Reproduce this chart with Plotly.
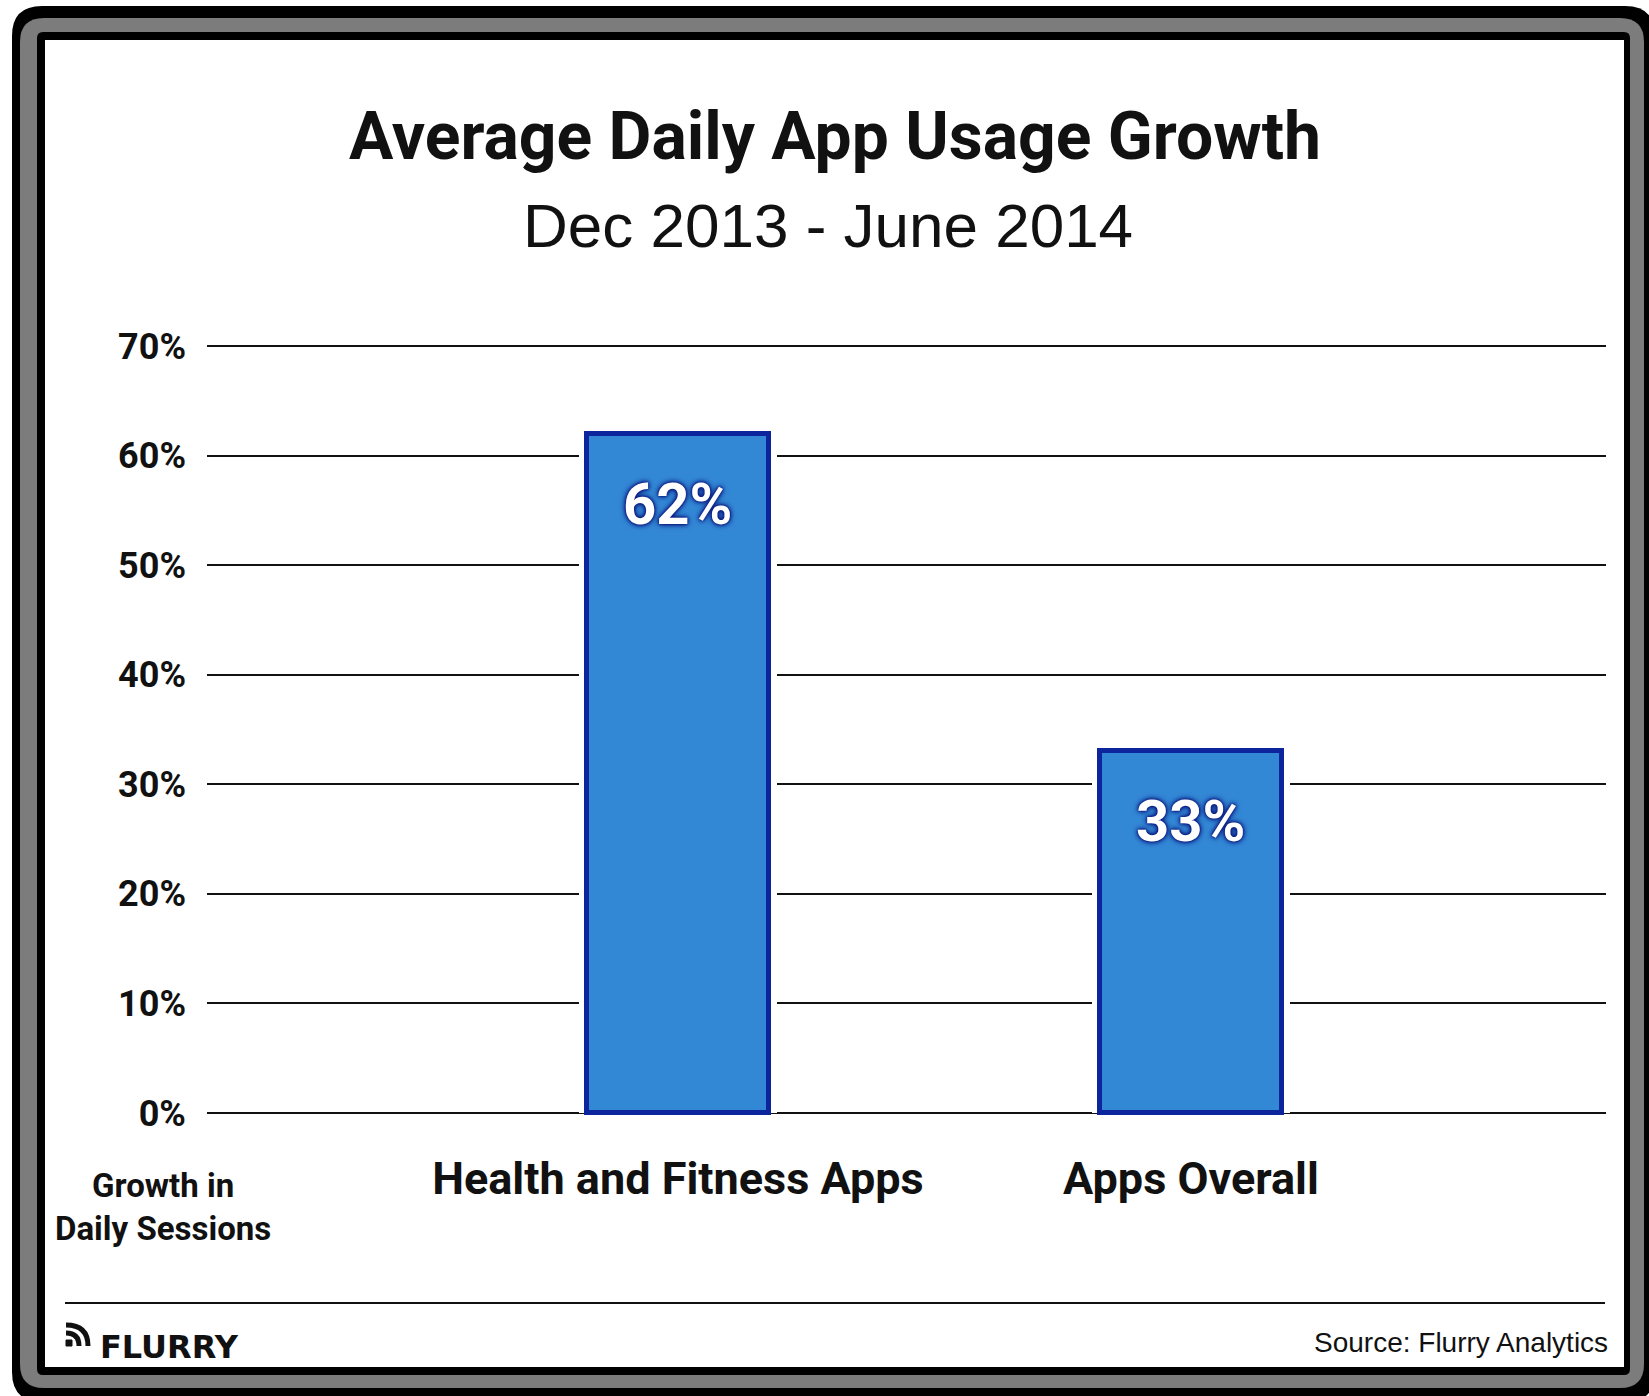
import plotly.graph_objects as go

# ---- data ----
categories = ["Health and Fitness Apps", "Apps Overall"]
growth_pct = [62, 33]
tick_values = [0, 10, 20, 30, 40, 50, 60, 70]
tick_labels = ["0%", "10%", "20%", "30%", "40%", "50%", "60%", "70%"]

title_text = "Average Daily App Usage Growth"
subtitle_text = "Dec 2013 - June 2014"
axis_note = "Growth in<br>Daily Sessions"
source_text = "Source: Flurry Analytics"

# ---- page geometry (pixels) ----
W, H = 1649, 1396
PL, PR = 207, 1606          # plot area left / right
PT, PB = 335, 1124          # plot area top / bottom

BOLD = "Roboto, Liberation Sans, Arial, sans-serif"
REGULAR = "Liberation Sans, Arial, sans-serif"


def px(x):
    return (x - PL) / (PR - PL)


def py(y):
    return (PB - y) / (PB - PT)


def rounded_rect(x0, y0, x1, y1, r):
    """SVG path (paper coords) of a rectangle with rounded corners."""
    rx = r / (PR - PL)
    ry = r / (PB - PT)
    X0, X1 = px(x0), px(x1)
    Y0, Y1 = py(y0), py(y1)      # Y0 top (larger), Y1 bottom
    return (
        f"M{X0 + rx},{Y0} L{X1 - rx},{Y0} Q{X1},{Y0} {X1},{Y0 - ry} "
        f"L{X1},{Y1 + ry} Q{X1},{Y1} {X1 - rx},{Y1} "
        f"L{X0 + rx},{Y1} Q{X0},{Y1} {X0},{Y1 + ry} "
        f"L{X0},{Y0 - ry} Q{X0},{Y0} {X0 + rx},{Y0} Z"
    )


fig = go.Figure()

# white halo behind each bar so gridlines stop short of it
fig.add_trace(go.Bar(
    x=categories, y=growth_pct, width=0.385,
    marker=dict(color="white", line=dict(width=0)),
    hoverinfo="skip", showlegend=False,
))
# the bars
fig.add_trace(go.Bar(
    x=categories, y=growth_pct, width=0.353,
    marker=dict(color="#3388d6", line=dict(color="#0c249c", width=5)),
    showlegend=False,
))

annotations = []

# value labels inside the bars
for c, v in zip(categories, growth_pct):
    annotations.append(dict(
        x=c, y=v, xref="x", yref="y", text=f"{v}%", showarrow=False,
        yanchor="middle", yshift=-70,
        font=dict(family=BOLD, size=58, color="white", weight="bold",
                  shadow="0px 0px 6px #06127a, 0px 0px 4px #06127a, 0px 0px 2px #06127a"),
    ))

# title and subtitle
annotations.append(dict(
    x=px(835), y=py(136), xref="paper", yref="paper", text=title_text,
    showarrow=False, xanchor="center", yanchor="middle",
    font=dict(family=BOLD, size=66, color="#111111", weight="bold"),
))
annotations.append(dict(
    x=px(828), y=py(226), xref="paper", yref="paper", text=subtitle_text,
    showarrow=False, xanchor="center", yanchor="middle",
    font=dict(family=REGULAR, size=62, color="#111111"),
))

# y-axis caption under the tick labels
annotations.append(dict(
    x=px(163), y=py(1207), xref="paper", yref="paper", text=axis_note,
    showarrow=False, xanchor="center", yanchor="middle", align="center",
    font=dict(family=BOLD, size=33, color="#111111", weight="bold"),
))

# footer: brand mark and source
annotations.append(dict(
    x=px(98), y=py(1347), xref="paper", yref="paper", text="FLURRY",
    showarrow=False, xanchor="left", yanchor="middle",
    font=dict(family="DejaVu Sans, sans-serif", size=32, color="#111111", weight="bold"),
))
annotations.append(dict(
    x=px(1610), y=py(1342), xref="paper", yref="paper", text=source_text,
    showarrow=False, xanchor="right", yanchor="middle",
    font=dict(family=REGULAR, size=28, color="#111111"),
))

shapes = [
    # framed border: black / gray / black bands
    dict(type="path", xref="paper", yref="paper", layer="below",
         path=rounded_rect(12, 6, 1655, 1402, 30),
         fillcolor="#000000", line=dict(width=0)),
    dict(type="path", xref="paper", yref="paper", layer="below",
         path=rounded_rect(20, 18, 1644, 1388, 24),
         fillcolor="#7c7c7c", line=dict(width=0)),
    dict(type="path", xref="paper", yref="paper", layer="below",
         path=rounded_rect(37, 32, 1630, 1375, 6),
         fillcolor="#000000", line=dict(width=0)),
    dict(type="rect", xref="paper", yref="paper", layer="below",
         x0=px(45), x1=px(1624), y0=py(40), y1=py(1367),
         fillcolor="white", line=dict(width=0)),
    # footer divider
    dict(type="line", xref="paper", yref="paper", layer="above",
         x0=px(65), x1=px(1605), y0=py(1303), y1=py(1303),
         line=dict(color="#111111", width=2)),
    # feed-style icon next to the brand name
    dict(type="path", xref="paper", yref="paper", layer="above",
         path=(f"M{px(66)},{py(1340)} L{px(72)},{py(1340)} L{px(72)},{py(1346)} "
               f"L{px(66)},{py(1346)} Z"),
         fillcolor="#111111", line=dict(color="#111111", width=1)),
    dict(type="path", xref="paper", yref="paper", layer="above",
         path=(f"M{px(66)},{py(1333)} Q{px(79)},{py(1333)} {px(79)},{py(1346)}"),
         line=dict(color="#111111", width=5)),
    dict(type="path", xref="paper", yref="paper", layer="above",
         path=(f"M{px(66)},{py(1325)} Q{px(88)},{py(1325)} {px(88)},{py(1346)}"),
         line=dict(color="#111111", width=5)),
]

fig.update_layout(
    width=W, height=H,
    margin=dict(l=PL, r=W - PR, t=PT, b=H - PB, autoexpand=False),
    paper_bgcolor="white", plot_bgcolor="rgba(0,0,0,0)",
    barmode="overlay", bargap=0,
    showlegend=False,
    annotations=annotations,
    shapes=shapes,
    xaxis=dict(
        type="category", range=[-0.918, 1.809],
        showgrid=False, zeroline=False, showline=False, ticks="",
        tickfont=dict(family=BOLD, size=45, color="#111111", weight="bold"),
        ticklabelstandoff=24,
    ),
    yaxis=dict(
        range=[-1, 71], tickvals=tick_values, ticktext=tick_labels,
        showgrid=True, gridcolor="#111111", gridwidth=2,
        zeroline=True, zerolinecolor="#111111", zerolinewidth=2,
        showline=False, ticks="",
        tickfont=dict(family=BOLD, size=36, color="#111111", weight="bold"),
        ticklabelstandoff=20,
    ),
)

fig.write_html("out.html")
